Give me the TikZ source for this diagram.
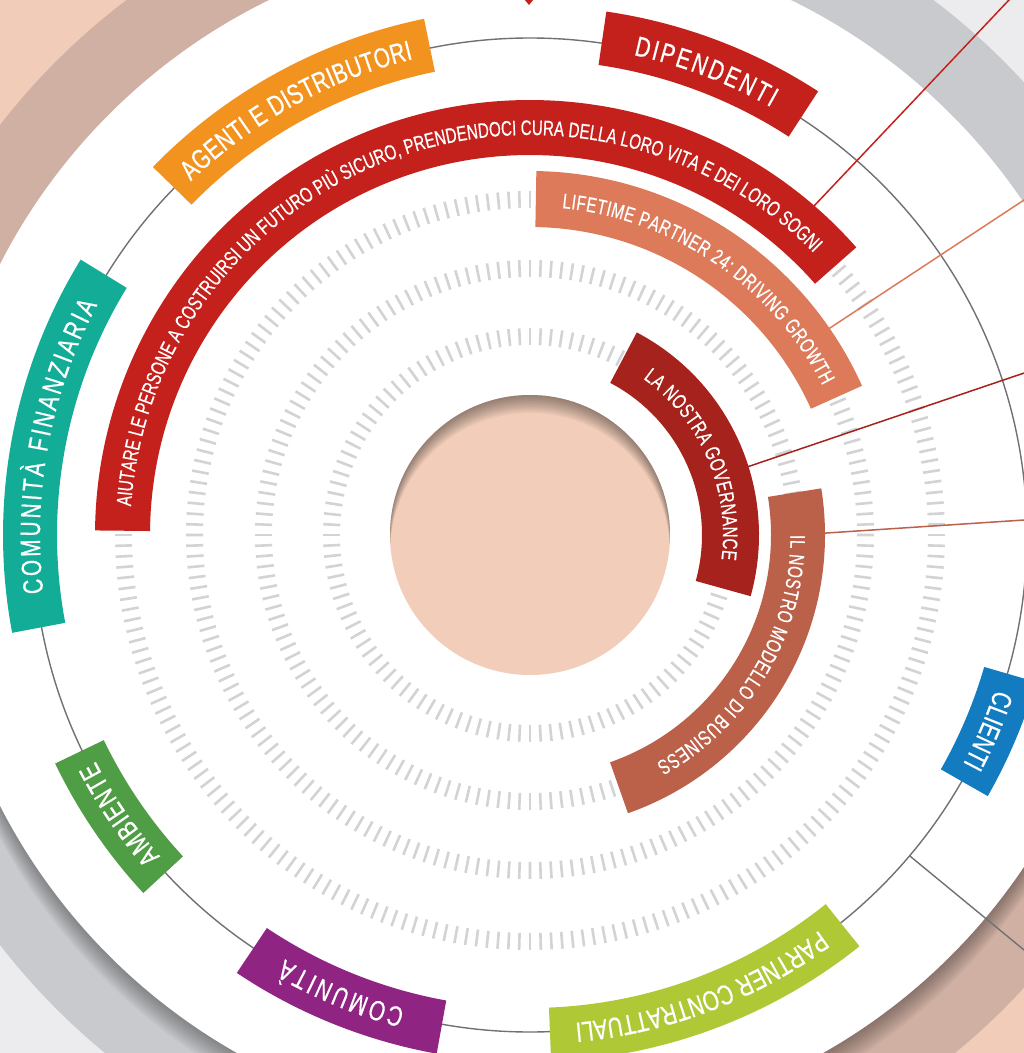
\documentclass[tikz,border=0pt]{standalone}
\usepackage{fontspec}
\usetikzlibrary{decorations.text}
\newfontfamily\labfont[FakeStretch=0.74,FakeBold=0.6]{Liberation Sans}
\newfontfamily\inlabfont[FakeStretch=0.72,FakeBold=0.5]{Liberation Sans}
\newcommand\biglab{\labfont\fontsize{28}{32}\selectfont}
\newcommand\smalllab{\inlabfont\fontsize{21}{25}\selectfont}
\definecolor{peachbg}{HTML}{F1CDB9}
\definecolor{brownband}{HTML}{D0B0A3}
\definecolor{graybg}{HTML}{ECECEE}
\definecolor{grayband}{HTML}{C9CACE}
\definecolor{tickgray}{HTML}{D2D3D5}
\definecolor{ringline}{HTML}{707174}
\definecolor{redmain}{HTML}{C4211C}
\definecolor{salmon}{HTML}{DC7A5A}
\definecolor{govred}{HTML}{A5231C}
\definecolor{bizbrown}{HTML}{BB6049}
\definecolor{orangelab}{HTML}{F3931F}
\definecolor{teallab}{HTML}{13AD97}
\definecolor{greenlab}{HTML}{4F9D45}
\definecolor{purplelab}{HTML}{902482}
\definecolor{limelab}{HTML}{AFC936}
\definecolor{bluelab}{HTML}{137CC1}
\definecolor{innerpeach}{HTML}{F1CDBA}
% #1 colour, #2 start angle, #3 end angle, #4 inner r, #5 outer r
\newcommand\bandsector[5]{\fill[#1] (#2:#4) arc[start angle=#2,end angle=#3,radius=#4] -- (#3:#5) arc[start angle=#3,end angle=#2,radius=#5] -- cycle;}
% #1 font, #2 start angle, #3 end angle, #4 baseline r, #5 text
\newcommand\arctext[5]{\path[decorate,decoration={text along path,text color=white,text align={fit to path},text={|#1|#5}}] (#2:#4) arc[start angle=#2,end angle=#3,radius=#4];}
\begin{document}
\begin{tikzpicture}[x=1pt,y=1pt,
  tickmark/.style={draw=tickgray,line width=2.6pt},
  leader/.style={line width=1.5pt},
  ringstyle/.style={draw=ringline,line width=1.4pt}]
\clip (-530,-518) rectangle (494,535);
% background quadrants
\fill[peachbg] (-530,0) rectangle (0,535);
\fill[graybg] (0,0) rectangle (494,535);
\fill[graybg] (-530,-518) rectangle (0,0);
\fill[peachbg] (0,-518) rectangle (494,0);
\fill[brownband] (0,0) -- (90:670) arc[start angle=90,end angle=180,radius=670] -- cycle;
\fill[grayband] (0,0) -- (0:670) arc[start angle=0,end angle=90,radius=670] -- cycle;
\fill[grayband] (0,0) -- (180:670) arc[start angle=180,end angle=270,radius=670] -- cycle;
\fill[brownband] (0,0) -- (270:670) arc[start angle=270,end angle=360,radius=670] -- cycle;
% soft shadow of the white disc
\foreach \k in {1,...,12} {\fill[black,opacity=0.03] (0,-1.6*\k) circle[radius=594+0.6*\k];}
\fill[white] (0,0) circle[radius=595];
% tick rings
\foreach \rr/\nn in {190/120,258/160,327/200,398/240}{
  \pgfmathsetmacro\tickstep{360/\nn}
  \foreach \i in {1,...,\nn}{\draw[tickmark] (\i*\tickstep:\rr) -- (\i*\tickstep:\rr+17);}
}
% central hole
\fill[innerpeach] (0,0) circle[radius=140];
\begin{scope}
\clip (0,0) circle[radius=140];
\foreach \d in {1.5,3,...,18} {\fill[black,opacity=0.035,even odd rule] (0,0) circle[radius=145] (0,-\d) circle[radius=140];}
\end{scope}
% stakeholder ring
\draw[ringstyle] (0,0) circle[radius=497];
% leader lines
\coordinate (aiutFoot) at (280.8,325.6);
\coordinate (aiutOut) at (489.3,545.9);
\coordinate (lifeFoot) at (293.3,202.6);
\coordinate (lifeOut) at (510.7,346);
\coordinate (govFoot) at (209.4,65.4);
\coordinate (govOut) at (513,168.4);
\coordinate (bizFoot) at (289,1.5);
\coordinate (bizOut) at (514,16.3);
\coordinate (ringFoot) at (-40.2:497);
\coordinate (ringOut) at (509.5,-427.7);
\draw[leader,redmain] (aiutFoot) -- (aiutOut);
\draw[leader,salmon] (lifeFoot) -- (lifeOut);
\draw[leader,govred] (govFoot) -- (govOut);
\draw[leader,bizbrown] (bizFoot) -- (bizOut);
\draw[leader,ringline,line width=1.4pt] (ringFoot) -- (ringOut);
% red marker at top
\fill[redmain] (-6,536) -- (4,536) -- (-1,530) -- cycle;
% inner bands
\bandsector{redmain}{179.4}{41.4}{380}{435}
\arctext{\smalllab}{175.9}{45.0}{400}{AIUTARE LE PERSONE A COSTRUIRSI UN FUTURO PIÙ SICURO, PRENDENDOCI CURA DELLA LORO VITA E DEI LORO SOGNI}
\bandsector{salmon}{89.0}{24.2}{308}{364}
\arctext{\smalllab}{84.4}{27.1}{328.5}{LIFETIME PARTNER 24: DRIVING GROWTH}
\bandsector{govred}{62.2}{-15.5}{172}{229}
\arctext{\smalllab}{54.1}{-7.3}{193}{LA NOSTRA GOVERNANCE}
\bandsector{bizbrown}{9.1}{-70.6}{241}{295}
\arctext{\smalllab}{0}{-61}{260.5}{IL NOSTRO MODELLO DI BUSINESS}
% stakeholder labels
\bandsector{orangelab}{135.7}{101.6}{473}{527}
\arctext{\biglab}{133.8}{103.8}{490}{AGENTI E DISTRIBUTORI}
\bandsector{redmain}{81.7}{57.0}{475}{529}
\arctext{\biglab}{77.8}{60.6}{491}{DIPENDENTI}
\bandsector{teallab}{190.7}{148.5}{473}{527}
\arctext{\biglab}{186.8}{152.0}{490}{COMUNITÀ FINANZIARIA}
\bandsector{greenlab}{222.8}{205.7}{473}{527}
\arctext{\biglab}{221.0}{207.5}{490}{AMBIENTE}
\bandsector{purplelab}{259.8}{236.2}{473}{527}
\arctext{\biglab}{255.2}{240.0}{490}{COMUNITÀ}
\bandsector{limelab}{308.7}{272.3}{473}{527}
\arctext{\biglab}{306.2}{275.3}{490}{PARTNER CONTRATTUALI}
\bandsector{bluelab}{343.8}{330.3}{473}{527}
\arctext{\biglab}{341.6}{332.1}{490}{CLIENTI}
\end{tikzpicture}
\end{document}
